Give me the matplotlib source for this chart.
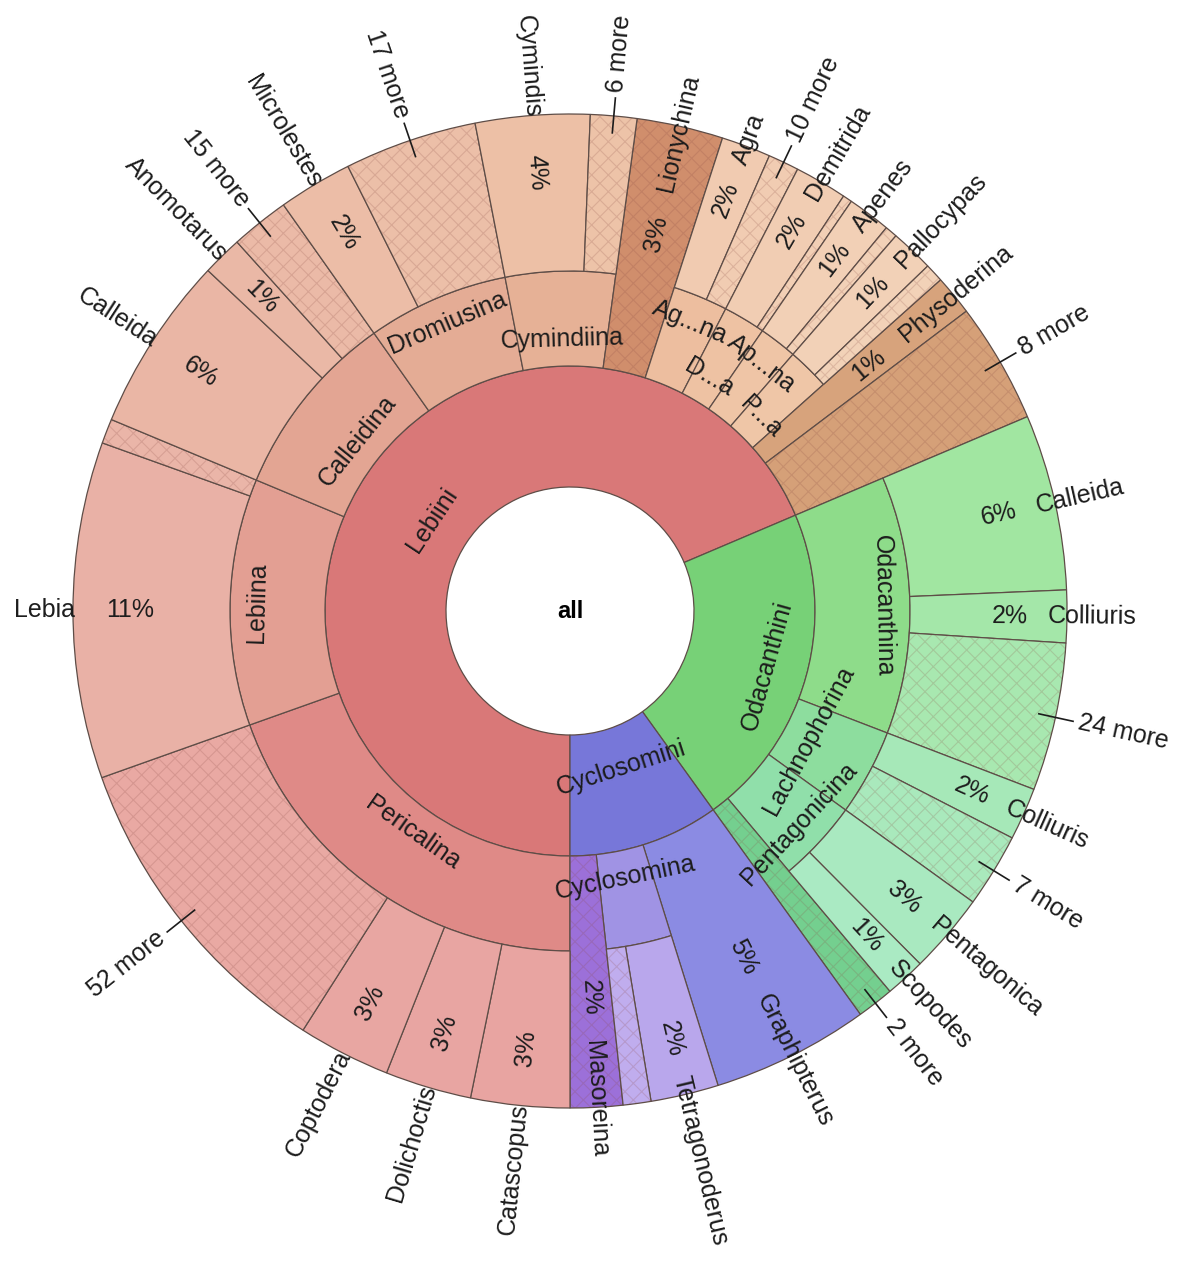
import numpy as np
import matplotlib.pyplot as plt
from matplotlib.patches import Wedge

# leaves of the sunburst, clockwise from six o'clock
# genus None -> the subtribe node itself reaches the outer ring
tribe = ["Lebiini"] * 24 + ["Odacanthini"] * 8 + ["Cyclosomini"] * 4
subtribe = ["Pericalina", "Pericalina", "Pericalina", "Pericalina",
            "Lebiina", "Lebiina",
            "Calleidina", "Calleidina", "Calleidina",
            "Dromiusina", "Dromiusina",
            "Cymindiina", "Cymindiina",
            "Lionychina",
            "Ag...na", "Ag...na",
            "D...a", "D...a",
            "Ap...na", "Ap...na",
            "P...a", "P...a",
            "Physoderina",
            "8 more",
            "Odacanthina", "Odacanthina", "Odacanthina",
            "Lachnophorina", "Lachnophorina",
            "Pentagonicina", "Pentagonicina",
            "2 more",
            "Graphipterus",
            "Cyclosomina", "Cyclosomina",
            "Masoreina"]
genus = ["Catascopus", "Dolichoctis", "Coptodera", "52 more",
         "Lebia", "",
         "Calleida", "Anomotarus", "15 more",
         "Microlestes", "17 more",
         "Cymindis", "6 more",
         None,
         "Agra", "10 more",
         "Demitrida", "",
         "Apenes", "",
         "Pallocypas", "",
         None,
         None,
         "Calleida", "Colliuris", "24 more",
         "Colliuris", "7 more",
         "Pentagonica", "Scopodes",
         None,
         None,
         "Tetragonoderus", "",
         None]
value = [32, 28, 30, 105,
         109, 8,
         57, 13, 19,
         24, 43,
         37, 15,
         28,
         16, 10,
         17, 3,
         14, 4,
         14, 6,
         13,
         39,
         57, 17, 48,
         17, 24,
         26, 13,
         12,
         51,
         22, 9,
         17]

# colours
tribe_color = {"Lebiini": "#D97878", "Odacanthini": "#77D177",
               "Cyclosomini": "#7777D9"}
subtribe_color = {"Pericalina": "#DF8A87", "Lebiina": "#E39F93",
                  "Calleidina": "#E3A593", "Dromiusina": "#E4AC95",
                  "Cymindiina": "#E6B196", "Lionychina": "#D08E6C",
                  "Ag...na": "#EDBE9F", "D...a": "#EEC2A3",
                  "Ap...na": "#EFC5A6", "P...a": "#EFC6A7",
                  "Physoderina": "#D7A37C", "8 more": "#D5A078",
                  "Odacanthina": "#8EDC8A", "Lachnophorina": "#8DDD9E",
                  "Pentagonicina": "#90DFAA", "2 more": "#74CF8F",
                  "Graphipterus": "#8B8BE3", "Cyclosomina": "#A093E4",
                  "Masoreina": "#9C70D9"}
leaf_color = ["#E8A4A1", "#E8A5A2", "#E8A6A2", "#E9A9A3",
              "#E9B1A6", "#EAB5A8",
              "#EAB6A5", "#EAB8A6", "#EBBAA7",
              "#ECBDA7", "#ECBFA8",
              "#EDC0A6", "#EDC3A8",
              None,
              "#F1CBB1", "#F1CCB2",
              "#F1CDB3", "#F2CFB5",
              "#F2D0B6", "#F2D1B7",
              "#F2D1B7", "#F2D2B8",
              None, None,
              "#A1E6A1", "#A4E7A9", "#A8E8B0",
              "#A6E8B8", "#A9E9BC",
              "#A9E9C0", "#AAEAC3",
              None, None,
              "#B9A7EC", "#C0ADEE",
              None]
HATCHED = {"Lionychina", "Masoreina"}
EDGE = "#5E4D47"
TXT = "#1c1c1c"

R_HOLE, R1, R2, R3 = 124, 245, 340, 497

plt.rcParams['font.family'] = ['Liberation Sans', 'DejaVu Sans']
plt.rcParams['hatch.linewidth'] = 0.8
FS = 18

fig = plt.figure(figsize=(11.81, 12.64), dpi=100)
ax = fig.add_axes([0, 0, 1, 1])
ax.set_xlim(-570, 611)
ax.set_ylim(-653, 611)
ax.set_aspect('equal')
ax.axis('off')

total = sum(value)
step = 360.0 / total
starts = []
a = -90.0
for v in value:
    starts.append(a)
    a -= v * step
ends = [s - v * step for s, v in zip(starts, value)]


def norm(th):
    return (th + 180) % 360 - 180


def xy(r, th):
    t = np.radians(th)
    return r * np.cos(t), r * np.sin(t)


def ring(r_in, r_out, t_from, t_to, color, hatch=False):
    ax.add_patch(Wedge((0, 0), r_out, t_to, t_from, width=r_out - r_in,
                       facecolor=color, edgecolor=EDGE, lw=0.9))
    if hatch:
        ax.add_patch(Wedge((0, 0), r_out, t_to, t_from, width=r_out - r_in,
                           fill=False, hatch='xx',
                           edgecolor=(0.55, 0.3, 0.28, 0.2), lw=0))


def tangent_text(s, r, th):
    th = norm(th)
    rot = th - 90 if 0 < th <= 180 else th + 90
    x, y = xy(r, th)
    ax.text(x, y, s, rotation=rot, rotation_mode='anchor', ha='center',
            va='center', fontsize=FS, color=TXT)


def radial_text(s, r, th, align):
    th = norm(th)
    right = -90 <= th <= 90
    rot = th if right else (th - 180 if th > 0 else th + 180)
    if align == 'out':
        ha = 'left' if right else 'right'
    else:
        ha = 'center'
    x, y = xy(r, th)
    ax.text(x, y, s, rotation=rot, rotation_mode='anchor', ha=ha,
            va='center', fontsize=FS, color=TXT)


def groups(keys):
    out = []
    i = 0
    while i < len(keys):
        j = i
        while j + 1 < len(keys) and keys[j + 1] == keys[i]:
            j += 1
        out.append((keys[i], i, j))
        i = j + 1
    return out


# ring 1: tribes
for k, (name, i, j) in enumerate(groups(tribe)):
    ring(R_HOLE, R1, starts[i], ends[j], tribe_color[name])
    mid = (starts[i] + ends[j]) / 2
    tangent_text(name, 165 if k % 2 == 0 else 205, mid)

# ring 2 (and subtribes that reach the outer ring)
k = 0
for (tname, sname), i, j in groups(list(zip(tribe, subtribe))):
    mid = (starts[i] + ends[j]) / 2
    if genus[i] is None:
        hatch = sname.endswith("more") or sname in HATCHED
        ring(R1, R3, starts[i], ends[j], subtribe_color[sname], hatch)
        continue
    ring(R1, R2, starts[i], ends[j], subtribe_color[sname])
    tangent_text(sname, 272 if k % 2 == 0 else 313, mid)
    k += 1

# outer ring: genera
for n in range(len(value)):
    mid = (starts[n] + ends[n]) / 2
    two_ring = genus[n] is None
    name = subtribe[n] if two_ring else genus[n]
    if not two_ring:
        hatch = name == "" or name.endswith("more")
        ring(R2, R3, starts[n], ends[n], leaf_color[n], hatch)
    if name == "":
        continue
    th = norm(mid)
    right = -90 <= th <= 90
    if name.endswith("more"):
        x0, y0 = xy(480, mid)
        x1, y1 = xy(515, mid)
        ax.plot([x0, x1], [y0, y1], color=TXT, lw=1.2)
        radial_text(name, 521, mid, 'out')
        continue
    pct = "%d%%" % round(value[n] / total * 100)
    if two_ring:
        radial_text(pct, 387, mid, 'center')
        radial_text(name, 430, mid, 'out')
    else:
        radial_text(pct, 440, mid, 'center')
        radial_text(name, 478 if right else 495, mid, 'out')

ax.text(0, 0, "all", ha='center', va='center', fontsize=17,
        fontweight='bold', color='black')

fig.savefig("out.png", dpi=100)
